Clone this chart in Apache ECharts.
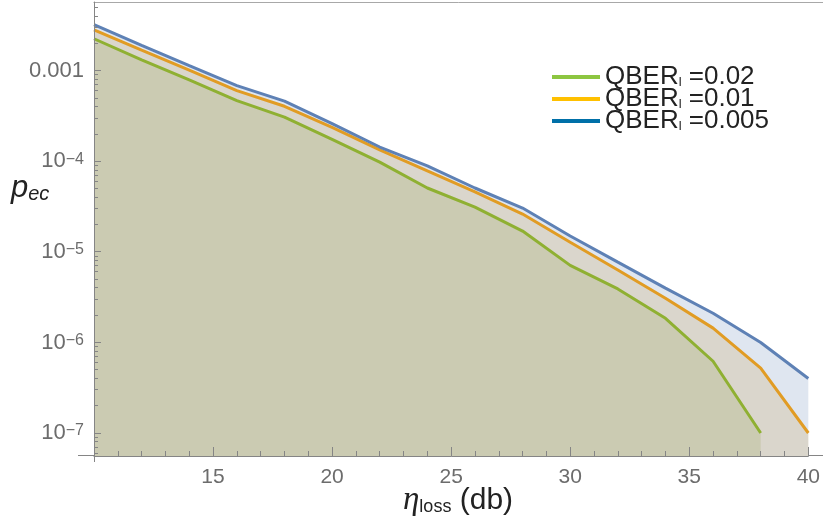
<!DOCTYPE html>
<html>
<head>
<meta charset="utf-8">
<script src="https://cdn.jsdelivr.net/npm/echarts@6/dist/echarts.min.js"></script>
<style>
html,body{margin:0;padding:0;background:#fff;}
#chart{width:823px;height:518px;}
</style>
</head>
<body>
<div id="chart"></div>
<script>
const xValues = [10,12,14,16,18,20,22,24,26,28,30,32,34,36,38,40];
const qber002 = [2.26e-3,1.32e-3,7.95e-4,4.69e-4,3.08e-4,1.75e-4,9.8e-5,5.08e-5,3.13e-5,1.70e-5,7.1e-6,3.9e-6,1.85e-6,6.2e-7,1.0e-7,null];
const qber001 = [2.84e-3,1.69e-3,1.02e-3,6.05e-4,4.06e-4,2.37e-4,1.34e-4,7.83e-5,4.6e-5,2.62e-5,1.28e-5,6.3e-6,3.08e-6,1.44e-6,5.2e-7,1.0e-7];
const qber0005 = [3.23e-3,1.91e-3,1.14e-3,6.86e-4,4.62e-4,2.61e-4,1.44e-4,8.9e-5,5.08e-5,3.05e-5,1.50e-5,7.7e-6,3.98e-6,2.1e-6,1.0e-6,4.0e-7];
const seriesNames = ['QBER_l =0.02','QBER_l =0.01','QBER_l =0.005'];
const legendLabels = ['=0.02','=0.01','=0.005'];
const xTickInterval = 5;
const yMajorTicks = [1e-7,1e-6,1e-5,1e-4,1e-3];
const yMinorMultipliers = [2,3,4,5,6,7,8,9];

const lineColors = ['#8FB032','#E19C24','#5E81B5'];
const legendColors = ['#8DC641','#FFC000','#0070A8'];
const yMin = Math.pow(10,-7.254), yMax = Math.pow(10,-2.24);
const xMin = 10, xMax = 40;

const yMinor = [];
for (let e = -8; e <= -3; e++) {
  yMinorMultipliers.forEach(m => {
    const v = m * Math.pow(10, e);
    if (v > yMin && v < yMax) yMinor.push(v);
  });
}

const allData = [qber002, qber001, qber0005];
const areaSeries = allData.map((arr, i) => ({
  name: 'area' + i,
  type: 'line',
  yAxisIndex: 0,
  data: xValues.map((x, j) => [x, arr[j]]),
  symbol: 'none',
  lineStyle: {width: 0, opacity: 0},
  itemStyle: {color: lineColors[i]},
  areaStyle: {color: lineColors[i], opacity: 0.2, origin: 'start'},
  z: 1
}));
const lineSeries = allData.map((arr, i) => ({
  name: seriesNames[i],
  type: 'line',
  yAxisIndex: 0,
  data: xValues.map((x, j) => [x, arr[j]]),
  symbol: 'none',
  lineStyle: {color: lineColors[i], width: 3},
  itemStyle: {color: lineColors[i]},
  z: 3
}));

const gray = '#858585';
const labelColor = '#6c6c6c';
const font = 'Liberation Sans, Arial, sans-serif';

// y-axis tick marks, placed through the log axis scale
const yTickData = yMajorTicks.map(v => [xMin, v, 7]).concat(yMinor.map(v => [xMin, v, 4]));
const yTickSeries = {
  name: 'yticks',
  type: 'custom',
  yAxisIndex: 0,
  silent: true,
  clip: false,
  z: 6,
  data: yTickData,
  renderItem: function (params, api) {
    const p = api.coord([api.value(0), api.value(1)]);
    const len = api.value(2);
    const y = Math.round(p[1] - 0.5) + 0.5;
    const x = Math.round(p[0]);
    return {
      type: 'line',
      shape: {x1: x, y1: y, x2: x + len, y2: y},
      style: {stroke: gray, lineWidth: 1}
    };
  }
};

const chart = echarts.init(document.getElementById('chart'), null, {renderer: 'canvas'});
chart.setOption({
  animation: false,
  backgroundColor: '#fff',
  grid: {left: 94, right: 14, top: 2, bottom: 62, containLabel: false},
  legend: {
    orient: 'vertical',
    left: 547, top: 59,
    icon: 'rect',
    itemWidth: 48, itemHeight: 4, itemGap: -4,
    data: seriesNames.map((n, i) => ({name: n, itemStyle: {color: legendColors[i]}, lineStyle: {color: legendColors[i]}})),
    formatter: function (name) {
      const i = seriesNames.indexOf(name);
      return '{a|QBER}{s|l}{a| ' + legendLabels[i] + '}';
    },
    textStyle: {
      color: '#222',
      fontFamily: font,
      fontSize: 26,
      lineHeight: 23,
      rich: {
        a: {fontFamily: font, fontSize: 26, color: '#222', lineHeight: 23},
        s: {fontFamily: font, fontSize: 13, color: '#222', lineHeight: 1, verticalAlign: 'bottom'}
      }
    }
  },
  xAxis: {
    type: 'value',
    min: xMin, max: xMax, interval: xTickInterval,
    z: 10,
    axisLine: {show: true, lineStyle: {color: gray, width: 1}},
    axisTick: {show: true, inside: true, length: 9, lineStyle: {color: gray, width: 1}},
    minorTick: {show: true, splitNumber: 5, length: 5, lineStyle: {color: gray, width: 1}},
    splitLine: {show: false},
    axisLabel: {
      showMinLabel: false,
      color: labelColor, fontFamily: font, fontSize: 21, margin: 11
    }
  },
  yAxis: [{
    type: 'log',
    min: yMin, max: yMax,
    z: 10,
    axisLine: {show: true, lineStyle: {color: gray, width: 1}},
    axisTick: {show: false},
    splitLine: {show: false},
    axisLabel: {
      customValues: yMajorTicks,
      margin: 10,
      color: labelColor, fontFamily: font, fontSize: 22,
      formatter: function (v) {
        const e = Math.round(Math.log10(v));
        if (e === -3) return '{b|0.001}';
        return '{b|10}{p|\u2212' + (-e) + '}';
      },
      rich: {
        b: {color: labelColor, fontFamily: font, fontSize: 22, lineHeight: 20},
        p: {color: labelColor, fontFamily: font, fontSize: 16, lineHeight: 8, verticalAlign: 'top'}
      }
    }
  }],
  series: areaSeries.concat(lineSeries, [yTickSeries]),
  graphic: [
    {type: 'line', shape: {x1: 93.5, y1: 2.5, x2: 823, y2: 2.5}, style: {stroke: '#a8a8a8', lineWidth: 1}, silent: true, z: 10},
    {type: 'line', shape: {x1: 78, y1: 455.5, x2: 94, y2: 455.5}, style: {stroke: gray, lineWidth: 1}, silent: true, z: 10},
    {type: 'line', shape: {x1: 809, y1: 455.5, x2: 823, y2: 455.5}, style: {stroke: gray, lineWidth: 1}, silent: true, z: 10},
    {type: 'line', shape: {x1: 94.5, y1: 455, x2: 94.5, y2: 462}, style: {stroke: gray, lineWidth: 1}, silent: true, z: 10},
    {
      type: 'text', left: 11, top: 173, silent: true, z: 10,
      style: {
        text: '{p|p}{s|ec}',
        rich: {
          p: {fontFamily: font, fontStyle: 'italic', fontSize: 31, fill: '#222', lineHeight: 32},
          s: {fontFamily: font, fontStyle: 'italic', fontSize: 20, fill: '#222', lineHeight: 16, verticalAlign: 'bottom'}
        }
      }
    },
    {
      type: 'text', left: 403, top: 484, silent: true, z: 10,
      style: {
        text: '{e|\u03b7}{s|loss}{t| (db)}',
        rich: {
          e: {fontFamily: 'Liberation Serif, serif', fontStyle: 'italic', fontSize: 33, fill: '#222', lineHeight: 32},
          s: {fontFamily: font, fontSize: 18, fill: '#222', lineHeight: 12, verticalAlign: 'bottom'},
          t: {fontFamily: font, fontSize: 30, fill: '#222', lineHeight: 32}
        }
      }
    }
  ]
});
</script>
</body>
</html>
